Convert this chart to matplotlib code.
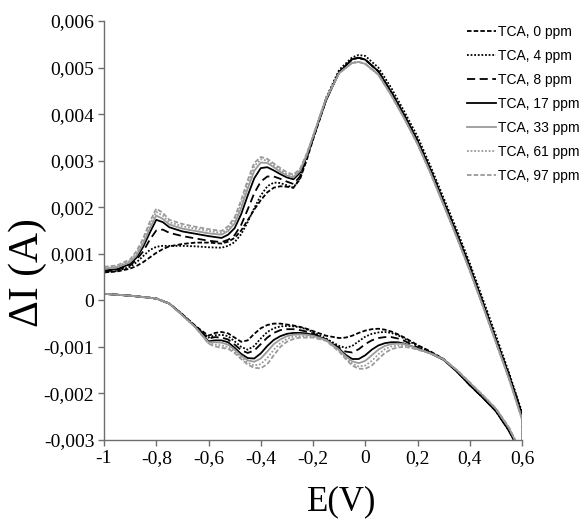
import matplotlib
matplotlib.use("Agg")
import matplotlib.pyplot as plt
import numpy as np

# ---------------- data (current values in mA, scaled to A below) ----------------
labels = ["TCA, 0 ppm", "TCA, 4 ppm", "TCA, 8 ppm", "TCA, 17 ppm",
          "TCA, 33 ppm", "TCA, 61 ppm", "TCA, 97 ppm"]

E_fwd = [-1.0, -0.95, -0.9, -0.875, -0.85, -0.825, -0.8, -0.775, -0.75, -0.7,
         -0.65, -0.6, -0.55, -0.525, -0.5, -0.475, -0.45, -0.425, -0.4, -0.375,
         -0.35, -0.325, -0.3, -0.275, -0.25, -0.225, -0.2, -0.15, -0.1, -0.05,
         -0.025, 0.0, 0.05, 0.1, 0.15, 0.2, 0.25, 0.3, 0.35, 0.4,
         0.45, 0.5, 0.55, 0.6]

fwd_0 = [0.60, 0.62, 0.68, 0.74, 0.82, 0.92, 1.02, 1.10, 1.16, 1.21,
         1.24, 1.24, 1.22, 1.26, 1.34, 1.50, 1.72, 1.95, 2.15, 2.32,
         2.42, 2.45, 2.44, 2.42, 2.60, 3.00, 3.45, 4.30, 4.90, 5.18,
         5.21, 5.17, 4.92, 4.47, 3.97, 3.43, 2.80, 2.12, 1.44, 0.72,
         -0.05, -0.84, -1.60, -2.45]
fwd_4 = [0.60, 0.63, 0.72, 0.82, 0.95, 1.08, 1.15, 1.17, 1.17, 1.17,
         1.16, 1.14, 1.13, 1.17, 1.25, 1.42, 1.68, 1.98, 2.25, 2.45,
         2.53, 2.52, 2.47, 2.42, 2.62, 3.05, 3.50, 4.35, 4.95, 5.22,
         5.27, 5.25, 5.00, 4.56, 4.05, 3.52, 2.88, 2.20, 1.52, 0.80,
         0.03, -0.75, -1.55, -2.40]
fwd_8 = [0.62, 0.65, 0.75, 0.88, 1.05, 1.30, 1.50, 1.52, 1.45, 1.38,
         1.33, 1.28, 1.25, 1.30, 1.40, 1.62, 1.95, 2.30, 2.55, 2.66,
         2.66, 2.61, 2.55, 2.50, 2.66, 3.05, 3.48, 4.30, 4.90, 5.18,
         5.21, 5.17, 4.92, 4.47, 3.97, 3.43, 2.80, 2.12, 1.44, 0.72,
         -0.05, -0.84, -1.60, -2.45]
fwd_17 = [0.64, 0.67, 0.78, 0.92, 1.15, 1.45, 1.73, 1.68, 1.57, 1.48,
          1.43, 1.38, 1.34, 1.41, 1.55, 1.85, 2.25, 2.62, 2.84, 2.86,
          2.79, 2.71, 2.64, 2.60, 2.74, 3.08, 3.48, 4.30, 4.90, 5.18,
          5.21, 5.17, 4.92, 4.47, 3.97, 3.43, 2.80, 2.12, 1.44, 0.72,
          -0.05, -0.84, -1.60, -2.45]
fwd_33 = [0.68, 0.71, 0.82, 0.97, 1.22, 1.54, 1.82, 1.75, 1.63, 1.54,
          1.49, 1.44, 1.41, 1.49, 1.65, 1.98, 2.40, 2.78, 2.96, 2.95,
          2.86, 2.76, 2.68, 2.64, 2.78, 3.10, 3.52, 4.33, 4.88, 5.10,
          5.12, 5.08, 4.85, 4.40, 3.90, 3.36, 2.73, 2.05, 1.36, 0.64,
          -0.12, -0.90, -1.68, -2.55]
fwd_61 = [0.70, 0.73, 0.85, 1.02, 1.28, 1.62, 1.90, 1.82, 1.68, 1.59,
          1.54, 1.49, 1.45, 1.54, 1.72, 2.07, 2.50, 2.88, 3.03, 3.00,
          2.90, 2.80, 2.71, 2.67, 2.80, 3.12, 3.52, 4.33, 4.88, 5.10,
          5.12, 5.08, 4.85, 4.40, 3.90, 3.36, 2.73, 2.05, 1.36, 0.64,
          -0.12, -0.90, -1.68, -2.55]
fwd_97 = [0.72, 0.75, 0.88, 1.06, 1.33, 1.68, 1.97, 1.88, 1.73, 1.64,
          1.58, 1.53, 1.49, 1.59, 1.78, 2.15, 2.58, 2.95, 3.08, 3.04,
          2.94, 2.84, 2.75, 2.70, 2.82, 3.14, 3.52, 4.33, 4.88, 5.10,
          5.12, 5.08, 4.85, 4.40, 3.90, 3.36, 2.73, 2.05, 1.36, 0.64,
          -0.12, -0.90, -1.68, -2.55]

E_rev = [-1.0, -0.9, -0.8, -0.75, -0.7, -0.65, -0.6, -0.575, -0.55, -0.525,
         -0.5, -0.475, -0.45, -0.425, -0.4, -0.375, -0.35, -0.325, -0.3, -0.275,
         -0.25, -0.225, -0.2, -0.15, -0.1, -0.075, -0.05, -0.025, 0.0, 0.025,
         0.05, 0.075, 0.1, 0.125, 0.15, 0.175, 0.2, 0.25, 0.3, 0.35,
         0.4, 0.45, 0.5, 0.55, 0.575, 0.6]

rev_0 = [0.14, 0.10, 0.04, -0.07, -0.30, -0.55, -0.76, -0.70, -0.68, -0.71,
         -0.80, -0.89, -0.86, -0.72, -0.60, -0.53, -0.50, -0.50, -0.52, -0.54,
         -0.57, -0.61, -0.66, -0.76, -0.81, -0.80, -0.76, -0.70, -0.65, -0.62,
         -0.61, -0.63, -0.67, -0.73, -0.80, -0.88, -0.96, -1.10, -1.26, -1.51,
         -1.80, -2.08, -2.36, -2.78, -3.05, -3.35]
rev_4 = [0.14, 0.10, 0.04, -0.07, -0.30, -0.56, -0.80, -0.75, -0.74, -0.77,
         -0.88, -1.00, -1.06, -0.98, -0.82, -0.68, -0.60, -0.56, -0.55, -0.56,
         -0.58, -0.62, -0.68, -0.82, -0.98, -1.02, -0.98, -0.88, -0.78, -0.72,
         -0.69, -0.68, -0.70, -0.75, -0.82, -0.90, -0.98, -1.11, -1.27, -1.52,
         -1.82, -2.09, -2.38, -2.80, -3.07, -3.37]
rev_8 = [0.14, 0.10, 0.04, -0.07, -0.31, -0.57, -0.82, -0.79, -0.80, -0.84,
         -0.95, -1.07, -1.13, -1.08, -0.94, -0.80, -0.70, -0.64, -0.62, -0.62,
         -0.64, -0.67, -0.71, -0.84, -1.02, -1.10, -1.12, -1.05, -0.94, -0.86,
         -0.81, -0.79, -0.79, -0.82, -0.87, -0.94, -1.01, -1.12, -1.27, -1.52,
         -1.82, -2.09, -2.38, -2.80, -3.07, -3.37]
rev_17 = [0.14, 0.10, 0.04, -0.07, -0.31, -0.57, -0.88, -0.86, -0.86, -0.90,
          -1.02, -1.15, -1.24, -1.25, -1.14, -0.98, -0.85, -0.77, -0.72, -0.70,
          -0.70, -0.71, -0.74, -0.84, -1.04, -1.17, -1.26, -1.26, -1.18, -1.06,
          -0.97, -0.92, -0.90, -0.90, -0.93, -0.98, -1.04, -1.14, -1.28, -1.53,
          -1.82, -2.09, -2.38, -2.80, -3.07, -3.37]
rev_33 = [0.14, 0.10, 0.04, -0.07, -0.32, -0.58, -0.90, -0.90, -0.91, -0.95,
          -1.06, -1.19, -1.29, -1.32, -1.25, -1.10, -0.94, -0.84, -0.77, -0.74,
          -0.73, -0.74, -0.76, -0.85, -1.06, -1.20, -1.31, -1.35, -1.30, -1.18,
          -1.06, -0.98, -0.94, -0.93, -0.94, -0.98, -1.04, -1.14, -1.27, -1.50,
          -1.77, -2.04, -2.33, -2.74, -3.02, -3.32]
rev_61 = [0.14, 0.10, 0.04, -0.07, -0.32, -0.58, -0.92, -0.95, -0.97, -1.00,
          -1.10, -1.23, -1.34, -1.40, -1.37, -1.24, -1.06, -0.92, -0.83, -0.78,
          -0.77, -0.77, -0.78, -0.86, -1.08, -1.23, -1.36, -1.42, -1.40, -1.30,
          -1.16, -1.05, -0.99, -0.97, -0.97, -1.00, -1.05, -1.14, -1.27, -1.50,
          -1.77, -2.04, -2.33, -2.74, -3.02, -3.32]
rev_97 = [0.14, 0.10, 0.04, -0.07, -0.32, -0.58, -0.93, -0.99, -1.02, -1.04,
          -1.13, -1.26, -1.38, -1.45, -1.46, -1.37, -1.18, -1.00, -0.89, -0.83,
          -0.80, -0.80, -0.80, -0.87, -1.10, -1.26, -1.40, -1.47, -1.47, -1.40,
          -1.26, -1.13, -1.05, -1.01, -1.00, -1.02, -1.06, -1.14, -1.27, -1.49,
          -1.76, -2.04, -2.32, -2.73, -3.01, -3.31]

x_ticks = [-1.0, -0.8, -0.6, -0.4, -0.2, 0.0, 0.2, 0.4, 0.6]
x_tick_labels = ["-1", "-0,8", "-0,6", "-0,4", "-0,2", "0", "0,2", "0,4", "0,6"]
y_ticks = [0.006, 0.005, 0.004, 0.003, 0.002, 0.001, 0.0, -0.001, -0.002, -0.003]
y_tick_labels = ["0,006", "0,005", "0,004", "0,003", "0,002", "0,001", "0",
                 "-0,001", "-0,002", "-0,003"]

MA = 1e-3  # mA -> A

fwd_all = [fwd_0, fwd_4, fwd_8, fwd_17, fwd_33, fwd_61, fwd_97]
rev_all = [rev_0, rev_4, rev_8, rev_17, rev_33, rev_61, rev_97]

BLACK = "#000000"
GRAY = "#9a9a9a"
styles = [
    dict(color=BLACK, ls=(0, (2.5, 1.2))),
    dict(color=BLACK, ls=(0, (1, 1))),
    dict(color=BLACK, ls=(0, (4.5, 2.5))),
    dict(color=BLACK, ls="-"),
    dict(color=GRAY, ls="-"),
    dict(color=GRAY, ls=(0, (1, 1))),
    dict(color=GRAY, ls=(0, (2.5, 1.2))),
]

# ---------------- figure ----------------
fig = plt.figure(figsize=(5.86, 5.20), dpi=100)
ax = fig.add_axes([104 / 586, 1 - 440 / 520, (522 - 104) / 586, (440 - 21) / 520])

for lab, f, r, st in zip(labels, fwd_all, rev_all, styles):
    x = np.concatenate([np.array(E_fwd), np.array(E_rev)[::-1]])
    y = np.concatenate([np.array(f), np.array(r)[::-1]]) * MA
    ax.plot(x, y, color=st["color"], linestyle=st["ls"], lw=1.3, label=lab,
            solid_joinstyle="round", dash_joinstyle="round")

ax.set_xlim(-1.0, 0.6)
ax.set_ylim(-0.003, 0.006)
ax.set_xticks(x_ticks)
ax.set_xticklabels(x_tick_labels)
ax.set_yticks(y_ticks)
ax.set_yticklabels(y_tick_labels)

for s in ["top", "right"]:
    ax.spines[s].set_visible(False)
for s in ["left", "bottom"]:
    ax.spines[s].set_color("#6e6e6e")
    ax.spines[s].set_linewidth(1.0)

ax.tick_params(axis="both", direction="out", length=4, width=1.0,
               color="#6e6e6e", labelsize=14, pad=3)
for t in ax.get_xticklabels() + ax.get_yticklabels():
    t.set_fontfamily("Liberation Serif")

fig.text(28 / 586, 1 - 273 / 520, "ΔI (A)", rotation=90, ha="center",
         va="center", fontsize=30, family="Liberation Serif")
fig.text(342 / 586, 1 - 502 / 520, "E(V)", ha="center", va="center",
         fontsize=25, family="Liberation Serif")

leg = fig.legend(loc="upper left", bbox_to_anchor=(467 / 586, 1 - 25 / 520),
                 frameon=False, handlelength=2.1, handletextpad=0.15,
                 labelspacing=0.72, borderpad=0, borderaxespad=0,
                 prop={"family": "Liberation Sans", "size": 10})

fig.savefig("out.png", dpi=100, facecolor="white")
